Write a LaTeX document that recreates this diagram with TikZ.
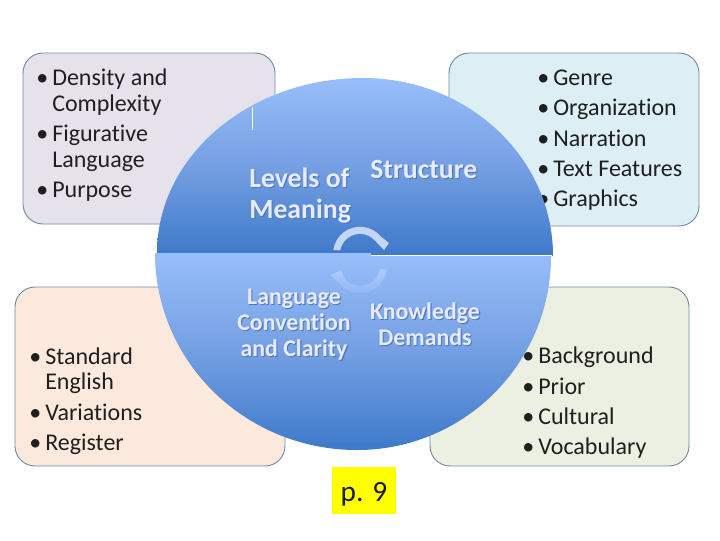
\documentclass[tikz,border=0pt]{standalone}
\usepackage{fontspec}
\setmainfont[Ligatures=CommonOff]{Carlito}
\begin{document}
\begin{tikzpicture}[x=0.75pt,y=0.75pt,
  cardbox/.style={draw=#1,line width=0.7pt,rounded corners=15pt},
  item/.style={anchor=base west,inner sep=0pt,yshift=-0.75pt,text=black!88,font=\fontsize{18pt}{20pt}\selectfont},
  headA/.style={anchor=base,inner sep=0pt,yshift=-0.75pt,text=white!92!blue,font=\fontsize{20.8pt}{22pt}\selectfont\bfseries},
  headB/.style={anchor=base,inner sep=0pt,yshift=-0.75pt,text=white!92!blue,font=\fontsize{17.9pt}{20pt}\selectfont\bfseries},
  lobe/.style={top color=discTop,bottom color=discBot,middle color=discMid,draw=none},
]
\definecolor{discTop}{HTML}{98BEFA}
\definecolor{discMid}{HTML}{749FE2}
\definecolor{discBot}{HTML}{3D79CA}
\definecolor{edge}{HTML}{6F8CA0}
\definecolor{shadowblue}{HTML}{4A78BE}
\newcommand{\bul}{\makebox[12pt][l]{•}}
\newcommand{\shad}[1]{\leavevmode\rlap{\raisebox{-0.8pt}{\kern0.8pt\textcolor{shadowblue}{#1}}}#1}
\useasboundingbox (0,0) rectangle (720,-540);
\fill[white] (0,0) rectangle (720,-540);
% cards
\path[cardbox=edge,fill={rgb,255:red,230;green,226;blue,236}] (23,-53) rectangle (275,-224);
\path[cardbox=edge,fill={rgb,255:red,221;green,238;blue,244}] (449,-53) rectangle (699,-226);
\path[cardbox=edge,fill={rgb,255:red,252;green,233;blue,221}] (15,-287) rectangle (285,-466);
\path[cardbox=edge,fill={rgb,255:red,236;green,240;blue,226}] (430,-287) rectangle (689,-466);
% card texts
\node[item] (a1) at (36,-84) {\bul Density and};
\node[item] (a2) at (52,-110) {Complexity};
\node[item] (a3) at (36,-140) {\bul Figurative};
\node[item] (a4) at (52,-166) {Language};
\node[item] (a5) at (36,-196) {\bul Purpose};
\node[item] (b1) at (537,-84) {\bul Genre};
\node[item] (b2) at (537,-114) {\bul Organization};
\node[item] (b3) at (537,-145) {\bul Narration};
\node[item] (b4) at (537,-175) {\bul Text Features};
\node[item] (b5) at (537,-205) {\bul Graphics};
\node[item] (c1) at (29,-363) {\bul Standard};
\node[item] (c2) at (45,-388) {English};
\node[item] (c3) at (29,-419) {\bul Variations};
\node[item] (c4) at (29,-449) {\bul Register};
\node[item] (d1) at (522,-362) {\bul Background};
\node[item] (d2) at (522,-393) {\bul Prior};
\node[item] (d3) at (522,-423) {\bul Cultural};
\node[item] (d4) at (522,-453) {\bul Vocabulary};
% disc
\path[lobe] (157,-253) arc[start angle=180,end angle=90,x radius=206,y radius=175]
  arc[start angle=90,end angle=0,x radius=190,y radius=178]
  -- (371,-256) -- (371,-253) -- cycle;
\path[lobe] (155,-253) -- (371,-253) -- (371,-256) -- (551,-256)
  arc[start angle=0,end angle=-90,x radius=194,y radius=194]
  arc[start angle=-90,end angle=-180,x radius=202,y radius=197] -- cycle;
\draw[white,line width=0.8pt] (371,-255.6) -- (552,-255.6);
\draw[white,line width=0.5pt] (252,-107) -- (252,-130);
% cycle arcs
\fill[fill={rgb,255:red,196;green,214;blue,244}]
  (333.3,-250) arc[start angle=172,end angle=40,radius=27]
  -- (389,-243) -- (384,-250) -- (375.3,-241)
  arc[start angle=40,end angle=170,radius=20] -- cycle;
\shade[top color={rgb,255:red,178;green,204;blue,248},bottom color=discTop!70!discMid]
  (386.7,-269.8) arc[start angle=-8,end angle=-140,radius=27]
  -- (331,-275) -- (341,-270) -- (344.7,-278.9)
  arc[start angle=-140,end angle=-8,radius=20] -- cycle;
% disc labels
\node[headA,anchor=base west] (lev1) at (249,-186) {\shad{Levels of}};
\node[headA,anchor=base west] (lev2) at (249,-217) {\shad{Meaning}};
\node[headA,anchor=base west] (str) at (370,-177) {\shad{Structure}};
\node[headB] (lan1) at (294,-303) {\shad{Language}};
\node[headB] (lan2) at (294,-329) {\shad{Convention}};
\node[headB] (lan3) at (294,-355) {\shad{and Clarity}};
\node[headB] (kno1) at (425,-318) {\shad{Knowledge}};
\node[headB] (kno2) at (425,-344) {\shad{Demands}};
% page tag
\fill[fill={rgb,255:red,255;green,255;blue,0}] (332,-467) rectangle (396,-514);
\node[anchor=base,inner sep=0pt,font=\fontsize{22pt}{24pt}\selectfont,text=black!90] (tag) at (364,-501) {p. 9};
\end{tikzpicture}
\end{document}
